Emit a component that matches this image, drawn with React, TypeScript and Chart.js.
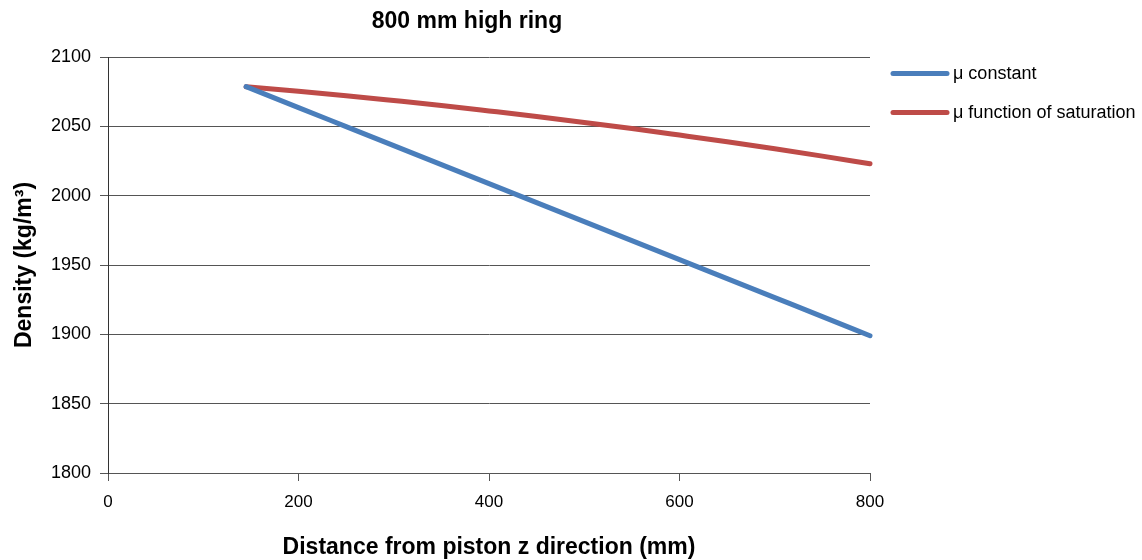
import React, { useEffect, useRef } from "react";
import { Chart, registerables } from "chart.js";

Chart.register(...registerables);

const chartTitle = "800 mm high ring";
const xTitle = "Distance from piston z direction (mm)";
const yTitle = "Density (kg/m³)";

const distances = [145, 200, 250, 300, 350, 400, 450, 500, 550, 600, 650, 700, 750, 800];
const muConstant = [2078.6, 2063.5, 2049.8, 2036.1, 2022.4, 2008.7, 1995.0, 1981.3, 1967.6, 1953.9, 1940.2, 1926.5, 1912.8, 1899.0];
const muSaturation = [2078.6, 2075.3, 2072.1, 2068.6, 2065.0, 2061.1, 2057.1, 2052.8, 2048.4, 2043.7, 2038.9, 2033.8, 2028.5, 2023.0];

const seriesNames = ["μ constant", "μ function of saturation"];
const seriesColors = ["#4a7ebb", "#be4b48"];

const FONT = '"Liberation Sans", Arial, Helvetica, sans-serif';

export default function App() {
  const ref = useRef<HTMLCanvasElement | null>(null);

  useEffect(() => {
    const canvas = ref.current;
    if (!canvas) return;

    const overlay = {
      id: "overlay",
      afterDraw(chart: any) {
        const ctx = chart.ctx;
        ctx.save();
        ctx.fillStyle = "#000";
        ctx.font = `bold 23px ${FONT}`;
        ctx.textAlign = "center";
        ctx.textBaseline = "alphabetic";
        ctx.fillText(chartTitle, 467, 28);
        const area = chart.chartArea;
        const lx0 = area.right + 23;
        const lx1 = lx0 + 54;
        chart.data.datasets.forEach((ds: any, i: number) => {
          const y = 73.5 + i * 39;
          ctx.strokeStyle = ds.borderColor;
          ctx.lineWidth = 5;
          ctx.lineCap = "round";
          ctx.beginPath();
          ctx.moveTo(lx0, y);
          ctx.lineTo(lx1, y);
          ctx.stroke();
          ctx.fillStyle = "#000";
          ctx.font = `18px ${FONT}`;
          ctx.textAlign = "left";
          ctx.textBaseline = "middle";
          ctx.fillText(ds.label, lx1 + 6, y + 1);
        });
        ctx.restore();
      },
    };

    const chart = new Chart(canvas, {
      type: "line",
      data: {
        datasets: [muConstant, muSaturation].map((vals, i) => ({
          label: seriesNames[i],
          data: distances.map((d, j) => ({ x: d, y: vals[j] })),
          borderColor: seriesColors[i],
          backgroundColor: seriesColors[i],
          borderWidth: 5,
          borderCapStyle: "round",
          borderJoinStyle: "round",
          pointRadius: 0,
          cubicInterpolationMode: "monotone",
          fill: false,
          clip: 6,
        })),
      },
      options: {
        responsive: false,
        animation: false,
        layout: { padding: { top: 57, right: 272, left: 0, bottom: 0 } },
        plugins: {
          legend: { display: false },
          title: { display: false },
          tooltip: { enabled: false },
        },
        scales: {
          x: {
            type: "linear",
            min: 0,
            max: 800,
            afterFit: (s: any) => {
              s.height = 87;
            },
            ticks: {
              stepSize: 200,
              padding: 11,
              color: "#000",
              maxRotation: 0,
              callback: (v: any) => String(v),
              font: { size: 17, family: `"Liberation Sans Narrow", ${FONT}` },
            },
            grid: {
              drawOnChartArea: false,
              drawTicks: true,
              tickLength: 8,
              color: "#555",
            },
            border: { display: true, color: "#555", width: 1 },
            title: {
              display: true,
              text: xTitle,
              color: "#000",
              font: { size: 23, weight: "bold", family: FONT, lineHeight: 1.1 },
              padding: { top: 0, bottom: 0 },
            },
          },
          y: {
            min: 1800,
            max: 2100,
            afterFit: (s: any) => {
              s.width = 108;
            },
            ticks: {
              stepSize: 50,
              padding: 9,
              color: "#000",
              callback: (v: any) => String(v),
              font: { size: 18, family: FONT },
            },
            grid: {
              drawOnChartArea: true,
              drawTicks: true,
              tickLength: 8,
              color: "#555",
            },
            border: { display: true, color: "#333", width: 1 },
            title: {
              display: true,
              text: yTitle,
              color: "#000",
              font: { size: 23, weight: "bold", family: FONT, lineHeight: 1.1 },
              padding: { top: 12, bottom: 0 },
            },
          },
        },
      },
      plugins: [overlay],
    } as any);

    return () => chart.destroy();
  }, []);

  return (
    <canvas
      ref={ref}
      width={1142}
      height={560}
      style={{ position: "fixed", left: 0, top: 0, width: 1142, height: 560, background: "#fff" }}
    />
  );
}
